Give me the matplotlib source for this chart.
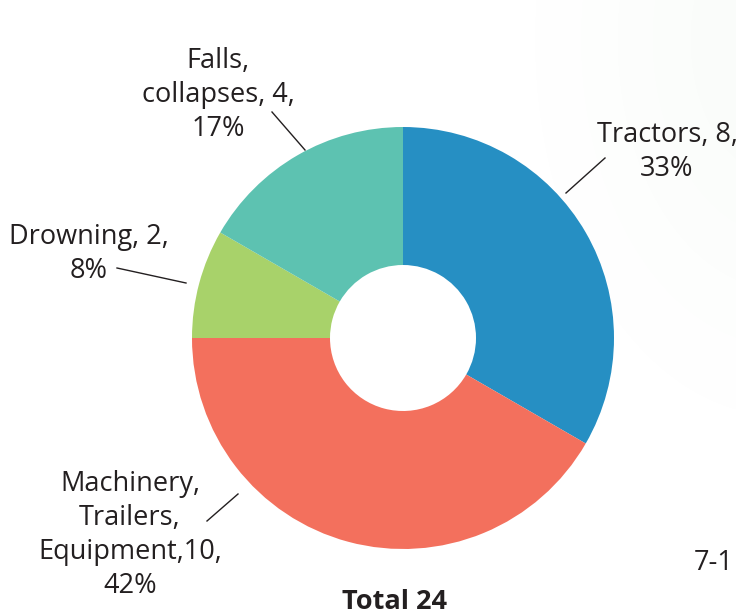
import matplotlib
matplotlib.use("Agg")
import matplotlib.pyplot as plt
import numpy as np

categories = ["Tractors", "Machinery, Trailers, Equipment", "Drowning", "Falls, collapses"]
values = [8, 10, 2, 4]
colors = ["#268FC3", "#F3705D", "#A8D26A", "#5DC2B1"]
label_texts = ["Tractors, 8,\n33%",
               "Machinery,\nTrailers,\nEquipment,10,\n42%",
               "Drowning, 2,\n8%",
               "Falls,\ncollapses, 4,\n17%"]
total_label = "Total 24"

W, H = 736, 616
fig = plt.figure(figsize=(W / 100, H / 100), dpi=100)
ax = fig.add_axes([0, 0, 1, 1])

# faint greenish background tint at top right (soft)
yy, xx = np.mgrid[0:H, 0:W]
d = np.sqrt(((xx - 780) / 300.0) ** 2 + ((yy - (H - 40)) / 460.0) ** 2)
t = np.clip(1 - d, 0, 1)
alpha = (t * t * (3 - 2 * t)) * 0.045
img = np.zeros((H, W, 4))
img[..., 0] = 0.55
img[..., 1] = 0.78
img[..., 2] = 0.55
img[..., 3] = alpha
ax.imshow(img, extent=(0, W, 0, H), origin="lower", zorder=0)

cx, cy = 403, H - 338
R, r = 211, 73
ax.pie(values, colors=colors, startangle=90, counterclock=False,
       center=(cx, cy), radius=R, frame=True,
       wedgeprops=dict(width=R - r, linewidth=0))
ax.set_xlim(0, W)
ax.set_ylim(0, H)
ax.set_aspect("equal")
ax.axis("off")

font = "Open Sans"
fs = 19.5
label_pos = [(667, H - 152), (130, H - 535), (89, H - 254), (218, H - 95)]
for txt, (x, y) in zip(label_texts, label_pos):
    ax.text(x, y, txt, ha="center", va="center", fontsize=fs, family=font,
            color="#231F20", linespacing=1.3)

leaders = [((605, 158), (566, 193)),
           ((207, 521), (238, 494)),
           ((117, 268), (186, 283)),
           ((272, 112), (305, 150))]
for (x0, y0), (x1, y1) in leaders:
    ax.plot([x0, x1], [H - y0, H - y1], color="#231F20", lw=1)

ax.text(395, H - 602, total_label, ha="center", va="center", fontsize=fs,
        family=font, fontweight="bold", color="#231F20")
ax.text(734, H - 563, "7-1", ha="right", va="center", fontsize=fs,
        family=font, color="#231F20")

fig.savefig("out.png", dpi=100)
